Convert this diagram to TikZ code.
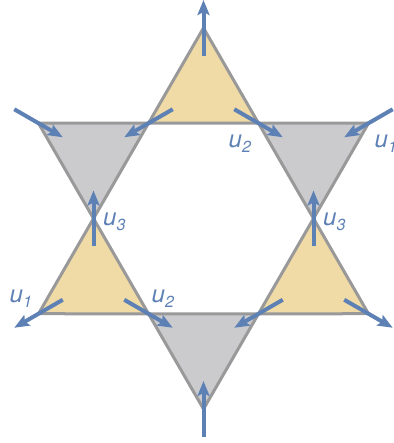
\documentclass[tikz,border=0pt]{standalone}
\usepackage{fontspec}
\setmainfont{TeX Gyre Heros}
\usetikzlibrary{arrows.meta,calc}

\definecolor{triyellow}{RGB}{240,218,165}
\definecolor{trigray}{RGB}{203,203,205}
\definecolor{edgegray}{RGB}{153,153,153}
\definecolor{vecblue}{RGB}{94,129,181}

% label u with italic index
\newcommand{\ulab}[1]{\itshape u\raisebox{-5pt}{\fontsize{16}{16}\selectfont #1}}

\begin{document}
\begin{tikzpicture}[x=1pt,y=1pt]
  % Parameters
  \def\outerR{190.5}
  \def\innerR{110}
  \def\halfvec{28}

  \tikzset{
    upface/.style={fill=triyellow, draw=edgegray, line width=3pt},
    downface/.style={fill=trigray, draw=edgegray, line width=3pt},
    vec/.style={draw=vecblue, line width=4pt,
      -{Stealth[length=15pt,width=12pt,inset=3pt]}},
    lab/.style={text=vecblue, font=\fontsize{24}{24}\selectfont,
      inner sep=0pt, anchor=base west}
  }

  \useasboundingbox (0,0) rectangle (393,443);
  \coordinate (O) at (203.5,224.5);

  % Outer tips and inner hexagon corners
  \foreach \a in {30,90,...,330} {
    \coordinate (o\a) at ($(O)+(\a:\outerR)$);
  }
  \foreach \a in {0,60,...,300} {
    \coordinate (h\a) at ($(O)+(\a:\innerR)$);
  }

  % Six small triangles
  \draw[upface]   (o90)  -- (h60)  -- (h120) -- cycle;
  \draw[downface] (o150) -- (h120) -- (h180) -- cycle;
  \draw[upface]   (o210) -- (h180) -- (h240) -- cycle;
  \draw[downface] (o270) -- (h240) -- (h300) -- cycle;
  \draw[upface]   (o330) -- (h300) -- (h0)   -- cycle;
  \draw[downface] (o30)  -- (h0)   -- (h60)  -- cycle;

  % Vectors centred on the corners
  \foreach \v/\d in {o90/90, o270/90, h180/90, h0/90,
                     o150/-30, h120/210, h60/-30, o30/210,
                     o210/210, h240/-30, h300/210, o330/-30} {
    \draw[vec] ($(\v)+({\d+180}:\halfvec)$) -- ($(\v)+(\d:\halfvec)$);
  }

  % Labels
  \node[lab] (u2top) at ($(h60)+(-30,-24)$) {\ulab{2}};
  \node[lab] (u1top) at ($(o30)+(6,-24)$) {\ulab{1}};
  \node[lab] (u3left) at ($(h180)+(9.5,-7.5)$) {\ulab{3}};
  \node[lab] (u3right) at ($(h0)+(9.5,-7.5)$) {\ulab{3}};
  \node[lab] (u1bot) at ($(o210)+(-29,11)$) {\ulab{1}};
  \node[lab] (u2bot) at ($(h240)+(3,11)$) {\ulab{2}};
\end{tikzpicture}
\end{document}
